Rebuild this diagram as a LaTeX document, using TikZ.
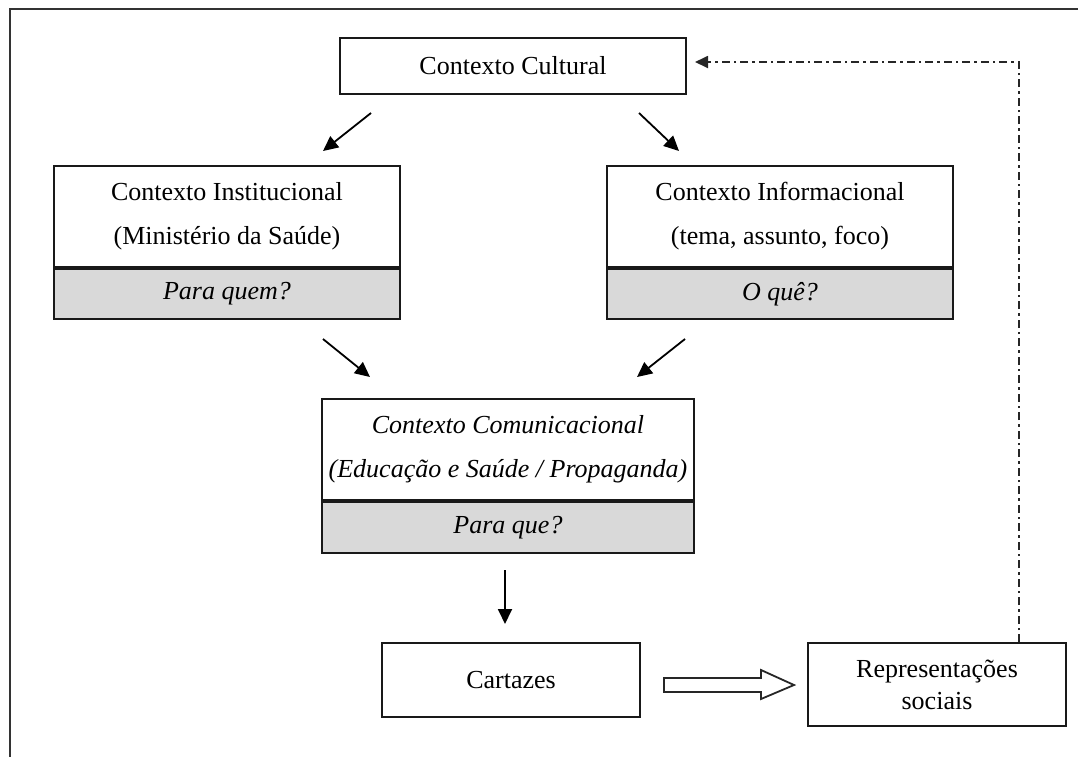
\documentclass[tikz,border=0pt]{standalone}
\usepackage{fontspec}
\setmainfont{Liberation Serif}
\usetikzlibrary{arrows.meta,calc}
\begin{document}
\begin{tikzpicture}[x=1pt,y=1pt,
  box/.style={draw=black!90,line width=2pt,rectangle,inner sep=0pt,align=center,
    font=\fontsize{26}{44}\selectfont},
  qbox/.style={box,fill=black!15},
  arr/.style={line width=1.8pt,-{Triangle[length=15pt,width=14pt]}},
  dashdot/.style={line width=1.8pt,black!85,dash pattern=on 8pt off 4pt on 2.5pt off 4pt,
    -{Triangle[length=13pt,width=12pt]}},
  hollow/.style={draw=black!85,line width=1.8pt,fill=white,line join=miter}]
\useasboundingbox (0,0) rectangle (1078,-756);
% outer frame
\draw[line width=2pt,black!80] (10,-780) -- (10,-9) -- (1100,-9);
% nodes
\node[box,minimum width=346pt,minimum height=56pt] (cult) at (513,-66) {Contexto Cultural};
\node[box,minimum width=346pt,minimum height=101pt] (inst) at (227,-216.5)
  {Contexto Institucional\\(Ministério da Saúde)};
\node[qbox,minimum width=346pt,minimum height=50pt,anchor=north] (instq) at (inst.south) {\itshape Para quem?};
\node[box,minimum width=346pt,minimum height=101pt] (info) at (780,-216.5)
  {Contexto Informacional\\(tema, assunto, foco)};
\node[qbox,minimum width=346pt,minimum height=50pt,anchor=north] (infoq) at (info.south) {\itshape O quê?};
\node[box,minimum width=372pt,minimum height=101pt,font=\fontsize{26}{44}\selectfont\itshape] (com) at (508,-449.5)
  {Contexto Comunicacional\\(Educação e Saúde / Propaganda)};
\node[qbox,minimum width=372pt,minimum height=51pt,anchor=north] (comq) at (com.south) {\itshape Para que?};
\node[box,minimum width=258pt,minimum height=74pt] (cart) at (511,-680) {Cartazes};
\node[box,minimum width=258pt,minimum height=83pt,font=\fontsize{26}{32}\selectfont] (rep) at (937,-684.5)
  {Representações\\sociais};
% arrow end points
\coordinate (a1s) at ($(cult.south west)+(32,-18)$);
\coordinate (a1e) at ($(inst.north)+(96,14)$);
\coordinate (a2s) at ($(cult.south west)+(300,-18)$);
\coordinate (a2e) at ($(info.north)+(-101,14)$);
\coordinate (a3s) at ($(instq.south)+(96,-19)$);
\coordinate (a3e) at ($(com.north)+(-138,21)$);
\coordinate (a4s) at ($(infoq.south)+(-95,-19)$);
\coordinate (a4e) at ($(com.north)+(129,21)$);
\coordinate (a5s) at ($(comq.south)+(-3,-16)$);
\coordinate (a5e) at ($(cart.north)+(-6,18)$);
\coordinate (fb1) at ($(rep.north west)+(212,0)$);
\coordinate (fb2) at ($(cult.east)+(8,4)$);
\draw[arr] (a1s) -- (a1e);
\draw[arr] (a2s) -- (a2e);
\draw[arr] (a3s) -- (a3e);
\draw[arr] (a4s) -- (a4e);
\draw[arr] (a5s) -- (a5e);
\draw[dashdot] (fb1) |- (fb2);
% hollow arrow from cartazes to representacoes
\coordinate (h0) at ($(cart.east)+(23,-5)$);
\coordinate (h1) at ($(rep.west)+(-13,-0.5)$);
\draw[hollow] ($(h0)+(0,7)$) -- ($(h1)+(-33,7)$) -- ($(h1)+(-33,15)$) -- (h1)
  -- ($(h1)+(-33,-14)$) -- ($(h1)+(-33,-7)$) -- ($(h0)+(0,-7)$) -- cycle;
\end{tikzpicture}
\end{document}
